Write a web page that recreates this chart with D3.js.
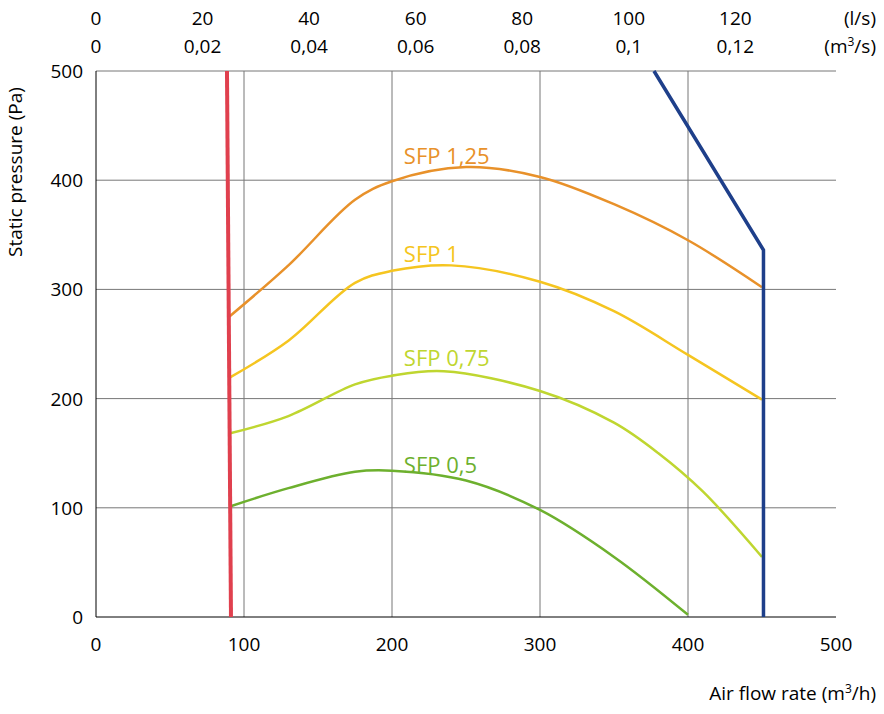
<!DOCTYPE html><html><head><meta charset="utf-8"><script src="https://cdn.jsdelivr.net/npm/d3@7"></script>
<style>body{margin:0;background:#fff}text{font-family:"Open Sans","Noto Sans",sans-serif}</style></head><body>
<svg id="c" width="884" height="714"></svg>
<script>
const xTicks=[0,100,200,300,400,500];
const yTicks=[0,100,200,300,400,500];
const lsTicks=[0,20,40,60,80,100,120];
const m3sLabels=["0","0,02","0,04","0,06","0,08","0,1","0,12"];
const sfpNames=["SFP 1,25","SFP 1","SFP 0,75","SFP 0,5"];
const sfpColors=["#E8912A","#F5C520","#BFD630","#6DB02E"];
const sfpLabelPos=[[208,415],[208,325],[208,230],[208,132]];
const sfp125=[[90,275],[130,322],[175,382],[200,399],[250,412],[300,403],[350,378],[400,345],[450,302]];
const sfp100=[[90,219],[130,253],[175,306],[200,317],[240,322],[300,307],[350,280],[400,240],[450,199]];
const sfp075=[[90,168],[130,184],[175,213],[200,221],[235,225],[300,207],[350,178],[380,150],[410,115],[450,55]];
const sfp050=[[90,101],[130,118],[175,133],[200,134],[250,125],[300,98],[350,55],[400,2]];
const minLine=[[88.5,500],[91.2,0]];
const maxLine=[[377,500],[451,336],[451,0]];
const svg=d3.select("#c");
const x=d3.scaleLinear().domain([0,500]).range([96,836]);
const y=d3.scaleLinear().domain([0,500]).range([617,71]);
const g=svg.append("g");
g.selectAll(".gx").data(xTicks.filter(d=>d>0&&d<500)).join("line").attr("x1",d=>x(d)).attr("x2",d=>x(d)).attr("y1",y(0)).attr("y2",y(500)).attr("stroke","#777").attr("stroke-width",1);
g.selectAll(".gy").data(yTicks.filter(d=>d>0)).join("line").attr("x1",x(0)).attr("x2",x(500)).attr("y1",d=>y(d)).attr("y2",d=>y(d)).attr("stroke","#777").attr("stroke-width",1);
g.append("line").attr("x1",x(0)).attr("x2",x(500)).attr("y1",y(0)).attr("y2",y(0)).attr("stroke","#000");
g.append("line").attr("x1",x(0)).attr("x2",x(0)).attr("y1",y(0)).attr("y2",y(500)).attr("stroke","#000");
const fs=19;
g.selectAll(".tx").data(xTicks).join("text").attr("x",d=>x(d)).attr("y",651).attr("text-anchor","middle").attr("font-size",fs).text(d=>d);
g.selectAll(".ty").data(yTicks).join("text").attr("x",83).attr("y",d=>y(d)+7).attr("text-anchor","end").attr("font-size",fs).text(d=>d);
const xt=d3.scaleLinear().domain([0,120]).range([x(0),x(432)]);
g.selectAll(".tl").data(lsTicks).join("text").attr("x",d=>xt(d)).attr("y",25).attr("text-anchor","middle").attr("font-size",fs).text(d=>d);
g.selectAll(".tm").data(lsTicks).join("text").attr("x",d=>xt(d)).attr("y",53).attr("text-anchor","middle").attr("font-size",fs).text((d,i)=>m3sLabels[i]);
g.append("text").attr("x",876).attr("y",25).attr("text-anchor","end").attr("font-size",fs).text("(l/s)");
g.append("text").attr("x",876).attr("y",53).attr("text-anchor","end").attr("font-size",fs).html('(m<tspan dy="-7" font-size="12">3</tspan><tspan dy="7">/s)</tspan>');
g.append("text").attr("x",876).attr("y",700).attr("text-anchor","end").attr("font-size",fs).html('Air flow rate (m<tspan dy="-7" font-size="12">3</tspan><tspan dy="7">/h)</tspan>');
g.append("text").attr("transform","translate(22,172) rotate(-90)").attr("text-anchor","middle").attr("font-size",fs).text("Static pressure (Pa)");
const line=d3.line().x(d=>x(d[0])).y(d=>y(d[1])).curve(d3.curveCatmullRom.alpha(0.5));
const lin=d3.line().x(d=>x(d[0])).y(d=>y(d[1]));
[sfp125,sfp100,sfp075,sfp050].forEach((s,i)=>{
 g.append("path").attr("d",line(s)).attr("fill","none").attr("stroke",sfpColors[i]).attr("stroke-width",2.5);
 g.append("text").attr("x",x(sfpLabelPos[i][0])).attr("y",y(sfpLabelPos[i][1])).attr("font-size",22).attr("fill",sfpColors[i]).text(sfpNames[i]);
});
g.append("path").attr("d",lin(minLine)).attr("fill","none").attr("stroke","#E0404E").attr("stroke-width",4);
g.append("path").attr("d",lin(maxLine)).attr("fill","none").attr("stroke","#1E3F8A").attr("stroke-width",3.5);
</script></body></html>
